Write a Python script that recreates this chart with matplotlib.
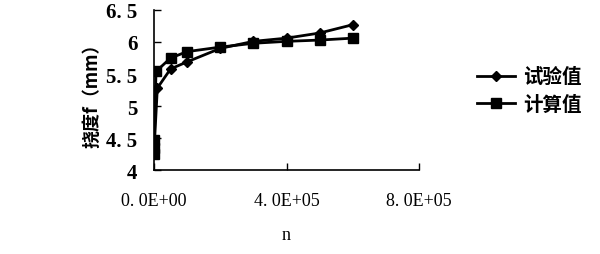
import matplotlib
matplotlib.use('Agg')
import matplotlib.pyplot as plt

# data
n_test = [0, 10000, 50000, 100000, 200000, 300000, 400000, 500000, 600000]
f_test = [4.30, 5.28, 5.58, 5.69, 5.90, 6.01, 6.06, 6.14, 6.27]

n_calc = [0, 100, 1000, 6000, 50000, 100000, 200000, 300000, 400000, 500000, 600000]
f_calc = [4.25, 4.35, 4.47, 5.54, 5.75, 5.85, 5.92, 5.98, 6.01, 6.03, 6.06]

xticks = [0, 400000, 800000]
xtick_labels = ['0. 0E+00', '4. 0E+05', '8. 0E+05']
yticks = [4, 4.5, 5, 5.5, 6, 6.5]
ytick_labels = ['4', '4. 5', '5', '5. 5', '6', '6. 5']

cjk = ['Noto Sans CJK SC', 'DejaVu Sans']
num_font = 'Liberation Serif'

fig = plt.figure(figsize=(6, 2.55), dpi=100)
ax = fig.add_axes([0.2567, 0.329, 0.4416, 0.628])

ax.plot(n_test, f_test, color='black', lw=2, marker='D', ms=5, label='试验值')
ax.plot(n_calc, f_calc, color='black', lw=2, marker='s', ms=7, label='计算值')

ax.set_xlim(0, 800000)
ax.set_ylim(4, 6.5)
ax.set_xticks(xticks)
ax.set_xticklabels(xtick_labels, fontfamily=num_font, fontsize=13)
ax.set_yticks(yticks)
ax.set_yticklabels(ytick_labels, fontfamily=num_font, fontsize=15, fontweight='bold')
ax.tick_params(direction='in', length=5, width=1)
ax.tick_params(axis='y', pad=12)
ax.tick_params(axis='x', pad=16)

for s in ['top', 'right']:
    ax.spines[s].set_visible(False)
for s in ['left', 'bottom']:
    ax.spines[s].set_linewidth(1.2)

ax.set_xlabel('n', fontfamily=num_font, fontsize=13, labelpad=12)
ax.set_ylabel('挠度f（mm）', family=cjk, fontsize=13, fontweight='bold', labelpad=3)

fig.legend(loc='center left', bbox_to_anchor=(0.765, 0.54, 0.2, 0.2),
           frameon=False, prop={'family': cjk, 'size': 14, 'weight': 'bold'},
           handlelength=2.0, handletextpad=0.4, labelspacing=0.45)

fig.savefig('out.png', dpi=100)
